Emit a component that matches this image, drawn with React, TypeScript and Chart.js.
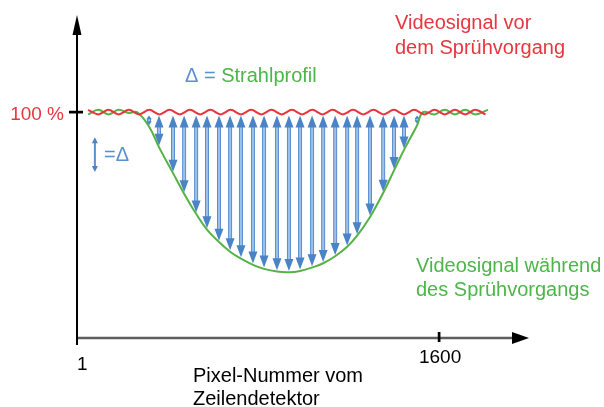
import React, { useEffect, useRef } from "react";
import { Chart, registerables } from "chart.js";

Chart.register(...registerables);

// ---------- data ----------
// x: pixel number of the line detector, y: video signal in %
const X_MIN = 1;
const X_MAX = 1997;
const Y_MIN = 0;
const Y_MAX = 143;
const X_TICKS = [1, 1600];
const Y_TICK = 100;

// signal before spraying (wavy around 100 %)
const redX = [50, 95, 140, 185, 230, 275, 320, 365, 410, 455, 500, 545, 590, 635, 680, 725, 770, 815, 860, 905,
  950, 995, 1040, 1085, 1130, 1175, 1220, 1265, 1310, 1355, 1400, 1445, 1490, 1535, 1580, 1625, 1670, 1715, 1760, 1805];
const redY = [101, 99, 101, 99, 101, 99, 101, 99, 101, 99, 101, 99, 101, 99, 101, 99, 101, 99, 101, 99,
  101, 99, 101, 99, 101, 99, 101, 99, 101, 99, 101, 99, 101, 99, 101, 99, 101, 99, 101, 99];

// signal during spraying
const greenX = [50, 95, 140, 185, 230, 266, 319, 363, 425, 474, 527, 575, 628, 677, 725, 778, 827, 884, 937,
  986, 1039, 1088, 1141, 1194, 1238, 1295, 1353, 1401, 1445, 1503, 1529, 1580, 1625, 1670, 1715, 1760, 1816];
const greenY = [99, 101, 99, 101, 99.6, 100, 93.6, 84.5, 73.0, 63.9, 55.0, 48.0, 42.5, 38.2, 35.1, 32.4, 30.6, 29.4, 29.1,
  29.7, 31.2, 33.1, 36.2, 40.4, 45.3, 53.6, 64.2, 74.2, 83.3, 94.2, 100, 99, 101, 99, 101, 99, 101];

// Δ arrows (beam profile)
const arrowX = [319, 363, 425, 474, 527, 575, 628, 677, 725, 778, 827, 884, 937, 986, 1039, 1088, 1141, 1194,
  1238, 1295, 1353, 1401, 1445, 1503];
const arrowLow = [94.2, 85.1, 73.6, 64.5, 55.6, 48.6, 43.1, 38.8, 35.7, 33.0, 31.2, 30.0, 29.7, 30.3, 31.8, 33.7,
  36.8, 41.0, 45.9, 54.2, 64.8, 74.8, 83.9, 94.8];
const ARROW_TOP = 99;

// legend arrow "=Δ"
const legendArrowX = 80;
const legendArrowTop = 88.9;
const legendArrowLow = 73.5;

// texts
const TXT_RED = ["Videosignal vor", "dem Sprühvorgang"];
const TXT_GREEN = ["Videosignal während", "des Sprühvorgangs"];
const TXT_XTITLE = ["Pixel-Nummer vom", "Zeilendetektor"];
const TXT_DELTA = "Δ =";
const TXT_PROFILE = "Strahlprofil";
const TXT_LEGEND = "=Δ";
const TXT_100 = "100 %";

// ---------- styles ----------
const RED = "#e8363f";
const GREEN = "#55b245";
const GREEN_TXT = "#4cb648";
const BLUE = "#5a8fd0";
const BLUE_HEAD = "#4a83c6";
const BLUE_SHAFT = "#9dc0ea";
const FONT = '20px "Liberation Sans", Arial, sans-serif';

function drawArrow(ctx: CanvasRenderingContext2D, x: number, yTop: number, yBot: number,
  headW: number, headH: number, shaftW: number) {
  const len = yBot - yTop;
  const hh = Math.min(headH, len * 0.4);
  const hw = Math.min(headW, hh * 0.85 + 2);
  ctx.fillStyle = BLUE;
  ctx.fillRect(x - shaftW / 2, yTop + hh - 1, shaftW, Math.max(0, len - 2 * hh + 2));
  if (shaftW >= 3) {
    ctx.fillStyle = BLUE_SHAFT;
    ctx.fillRect(x - shaftW / 2 + 1, yTop + hh - 1, shaftW - 2, Math.max(0, len - 2 * hh + 2));
  }
  ctx.fillStyle = BLUE_HEAD;
  ctx.beginPath();
  ctx.moveTo(x, yTop);
  ctx.lineTo(x - hw / 2, yTop + hh);
  ctx.lineTo(x + hw / 2, yTop + hh);
  ctx.closePath();
  ctx.fill();
  ctx.beginPath();
  ctx.moveTo(x, yBot);
  ctx.lineTo(x - hw / 2, yBot - hh);
  ctx.lineTo(x + hw / 2, yBot - hh);
  ctx.closePath();
  ctx.fill();
}

const overlayPlugin = {
  id: "overlay",
  beforeDatasetsDraw(chart: any) {
    const { ctx, chartArea } = chart;
    const xs = chart.scales.x;
    const ys = chart.scales.y;
    const x0 = xs.getPixelForValue(X_TICKS[0]);
    const y0 = ys.getPixelForValue(Y_MIN);
    ctx.save();
    // x axis
    ctx.strokeStyle = "#5e5e5e";
    ctx.lineWidth = 2.5;
    ctx.beginPath();
    ctx.moveTo(x0 - 1, y0);
    ctx.lineTo(chartArea.right - 14, y0);
    ctx.stroke();
    ctx.fillStyle = "#000";
    ctx.beginPath();
    ctx.moveTo(chartArea.right, y0);
    ctx.lineTo(chartArea.right - 17, y0 - 6);
    ctx.lineTo(chartArea.right - 17, y0 + 6);
    ctx.closePath();
    ctx.fill();
    // y axis
    ctx.strokeStyle = "#000";
    ctx.lineWidth = 2;
    ctx.beginPath();
    ctx.moveTo(x0, y0 + 7);
    ctx.lineTo(x0, chartArea.top + 16);
    ctx.stroke();
    ctx.beginPath();
    ctx.moveTo(x0, chartArea.top);
    ctx.lineTo(x0 - 4.5, chartArea.top + 20);
    ctx.lineTo(x0 + 4.5, chartArea.top + 20);
    ctx.closePath();
    ctx.fill();
    // ticks
    ctx.lineWidth = 2.7;
    const xt = xs.getPixelForValue(X_TICKS[1]);
    ctx.beginPath();
    ctx.moveTo(xt, y0 - 6);
    ctx.lineTo(xt, y0 + 4);
    ctx.stroke();
    const yt = ys.getPixelForValue(Y_TICK);
    ctx.beginPath();
    ctx.moveTo(x0 - 8, yt);
    ctx.lineTo(x0 + 6, yt);
    ctx.stroke();

    // Δ arrows
    const top = ys.getPixelForValue(ARROW_TOP) + 1;
    arrowX.forEach((v, i) => {
      drawArrow(ctx, xs.getPixelForValue(v), top, ys.getPixelForValue(arrowLow[i]), 9, 12, 4);
    });
    // legend arrow
    drawArrow(ctx, xs.getPixelForValue(legendArrowX), ys.getPixelForValue(legendArrowTop),
      ys.getPixelForValue(legendArrowLow), 6, 6, 2);
    ctx.restore();
  },
  afterDatasetsDraw(chart: any) {
    const { ctx } = chart;
    const xs = chart.scales.x;
    const ys = chart.scales.y;
    ctx.save();
    ctx.font = FONT;
    ctx.textBaseline = "alphabetic";
    ctx.fillStyle = RED;
    ctx.textAlign = "left";
    ctx.fillText(TXT_RED[0], 395, 29);
    ctx.fillText(TXT_RED[1], 395, 54);
    ctx.fillStyle = GREEN_TXT;
    ctx.fillText(TXT_GREEN[0], 416, 272);
    ctx.fillText(TXT_GREEN[1], 416, 296);
    ctx.fillStyle = BLUE;
    ctx.fillText(TXT_DELTA, 185, 82);
    const w = ctx.measureText(TXT_DELTA + " ").width;
    ctx.fillStyle = GREEN_TXT;
    ctx.fillText(TXT_PROFILE, 185 + w, 82);
    ctx.fillStyle = BLUE;
    ctx.fillText(TXT_LEGEND, 104, 161);
    ctx.fillStyle = RED;
    ctx.font = '19px "Liberation Sans", Arial, sans-serif';
    ctx.textAlign = "right";
    ctx.fillText(TXT_100, 64, ys.getPixelForValue(Y_TICK) + 8);
    ctx.fillStyle = "#000";
    ctx.textAlign = "left";
    ctx.fillText(String(X_TICKS[0]), xs.getPixelForValue(X_TICKS[0]), 370);
    ctx.textAlign = "center";
    ctx.fillText(String(X_TICKS[1]), xs.getPixelForValue(X_TICKS[1]) + 1, 363);
    ctx.font = FONT;
    ctx.textAlign = "left";
    ctx.fillText(TXT_XTITLE[0], 193, 382);
    ctx.fillText(TXT_XTITLE[1], 193, 405);
    ctx.restore();
  },
};

export default function App() {
  const ref = useRef<HTMLCanvasElement | null>(null);
  useEffect(() => {
    if (!ref.current) return;
    const chart = new Chart(ref.current, {
      type: "line",
      data: {
        datasets: [
          {
            label: "vor",
            data: redX.map((x, i) => ({ x, y: redY[i] })),
            borderColor: RED,
            borderWidth: 2,
            pointRadius: 0,
            cubicInterpolationMode: "monotone",
            fill: false,
            order: 1,
          },
          {
            label: "während",
            data: greenX.map((x, i) => ({ x, y: greenY[i] })),
            borderColor: GREEN,
            borderWidth: 2,
            pointRadius: 0,
            tension: 0.4,
            fill: false,
            order: 2,
          },
        ],
      },
      options: {
        animation: false,
        responsive: false,
        devicePixelRatio: 1,
        layout: { padding: { left: 77, right: 75, top: 15, bottom: 69 } },
        plugins: { legend: { display: false }, tooltip: { enabled: false }, title: { display: false } },
        scales: {
          x: { type: "linear", min: X_MIN, max: X_MAX, display: false },
          y: { type: "linear", min: Y_MIN, max: Y_MAX, display: false },
        },
      },
      plugins: [overlayPlugin],
    });
    return () => chart.destroy();
  }, []);
  return (
    <div style={{ position: "fixed", left: 0, top: 0, width: 604, height: 407, background: "#fff" }}>
      <canvas ref={ref} width={604} height={407} style={{ display: "block" }} />
    </div>
  );
}
